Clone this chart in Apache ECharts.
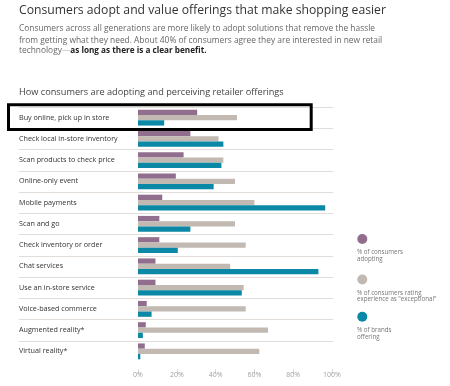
<!DOCTYPE html>
<html>
<head>
<meta charset="utf-8">
<script src="https://cdn.jsdelivr.net/npm/echarts@6/dist/echarts.min.js"></script>
<style>
html,body{margin:0;padding:0;background:#fff;}
#chart{width:450px;height:386px;}
</style>
</head>
<body>
<div id="chart"></div>
<script>
const categories = [
  'Buy online, pick up in store',
  'Check local in-store inventory',
  'Scan products to check price',
  'Online-only event',
  'Mobile payments',
  'Scan and go',
  'Check inventory or order',
  'Chat services',
  'Use an in-store service',
  'Voice-based commerce',
  'Augmented reality*',
  'Virtual reality*'
];
const adopting    = [30.5, 27, 23.5, 19.5, 12.5, 11, 11, 9, 9, 4.5, 4, 3.5];
const exceptional = [51, 41.5, 44, 50, 60, 50, 55.5, 47.5, 54.5, 55.5, 67, 62.5];
const offering    = [13.5, 44, 43, 39, 96.5, 27, 20.5, 93, 53.5, 7, 2.5, 1.2];
const seriesNames = ['% of consumers\nadopting', '% of consumers rating\nexperience as "exceptional"', '% of brands\noffering'];

const colors = ['#916e8d', '#c1b9b2', '#0b88a6'];
const FONT = 'Open Sans';

const chart = echarts.init(document.getElementById('chart'), null, {renderer: 'canvas'});

const legendY = [239, 279.5, 316.7];
const legendGraphics = [];
seriesNames.forEach((n, i) => {
  legendGraphics.push({
    type: 'circle', shape: {cx: 362.3, cy: legendY[i], r: 5},
    style: {fill: colors[i]}
  });
  legendGraphics.push({
    type: 'text', left: 357, top: legendY[i] + 10,
    style: {text: n, fill: '#777', font: '6.2px "' + FONT + '"', lineHeight: 6.8}
  });
});

const option = {
  animation: false,
  backgroundColor: '#fff',
  textStyle: {fontFamily: FONT},
  grid: [
    {left: 138, width: 194, top: 107, height: 255},
    {left: 19, width: 314, top: 107, height: 255}
  ],
  xAxis: [
    {
      gridIndex: 0, type: 'value', min: 0, max: 100, interval: 20,
      offset: 7,
      axisLine: {show: false},
      axisTick: {show: true, length: 5, lineStyle: {color: '#d8d8d8'}},
      axisLabel: {formatter: '{value}%', color: '#a0a0a0', fontSize: 7, margin: 2, fontFamily: FONT},
      splitLine: {show: false}
    },
    {gridIndex: 1, type: 'value', show: false, min: 0, max: 1}
  ],
  yAxis: [
    {
      gridIndex: 0, type: 'category', data: categories, inverse: true, show: false
    },
    {
      gridIndex: 1, type: 'category', data: categories, inverse: true,
      axisLine: {show: false}, axisTick: {show: false},
      axisLabel: {inside: true, margin: 0, interval: 0, color: '#333', fontSize: 7.2, fontFamily: FONT},
      splitLine: {show: true, showMinLine: true, showMaxLine: false, lineStyle: {color: '#e2ddd8', width: 1}}
    }
  ],
  series: [
    {name: seriesNames[0], type: 'bar', data: adopting, xAxisIndex: 0, yAxisIndex: 0, barWidth: 5.3, barGap: '0%', itemStyle: {color: colors[0]}},
    {name: seriesNames[1], type: 'bar', data: exceptional, xAxisIndex: 0, yAxisIndex: 0, barWidth: 5.3, barGap: '0%', itemStyle: {color: colors[1]}},
    {name: seriesNames[2], type: 'bar', data: offering, xAxisIndex: 0, yAxisIndex: 0, barWidth: 5.3, barGap: '0%', itemStyle: {color: colors[2]}}
  ],
  graphic: [
    {type: 'text', left: 19, top: 4.5, style: {text: 'Consumers adopt and value offerings that make shopping easier', fill: '#333', font: '12.2px "' + FONT + '"'}},
    {type: 'text', left: 19, top: 25, style: {text: 'Consumers across all generations are more likely to adopt solutions that remove the hassle', fill: '#666', font: '8.4px "' + FONT + '"'}},
    {type: 'text', left: 19, top: 36.3, style: {text: 'from getting what they need. About 40% of consumers agree they are interested in new retail', fill: '#666', font: '8.4px "' + FONT + '"'}},
    {type: 'text', left: 19, top: 47, style: {
      text: '{n|technology}{d|—}{b|as long as there is a clear benefit.}',
      rich: {
        n: {fill: '#666', font: '8.4px "' + FONT + '"'},
        d: {fill: '#bbb', font: '8.4px "' + FONT + '"'},
        b: {fill: '#222', font: 'bold 8.2px "' + FONT + '"'}
      }
    }},
    {type: 'text', left: 19, top: 88, style: {text: 'How consumers are adopting and perceiving retailer offerings', fill: '#444', font: '9.2px "' + FONT + '"'}},
    {type: 'rect', shape: {x: 8.5, y: 104.8, width: 302.7, height: 24.7}, style: {fill: null, stroke: '#000', lineWidth: 3}, z: 100}
  ].concat(legendGraphics)
};
chart.setOption(option);
</script>
</body>
</html>
